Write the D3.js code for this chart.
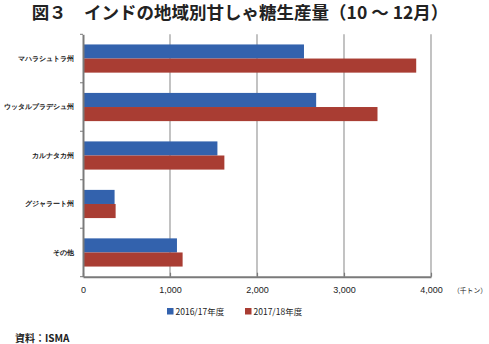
<!DOCTYPE html>
<html>
<head>
<meta charset="utf-8">
<script src="https://cdn.jsdelivr.net/npm/d3@7"></script>
<style>
  html, body { margin: 0; padding: 0; background: #fff; }
  svg { display: block; font-family: "Noto Sans CJK JP", "Noto Sans", sans-serif; }
</style>
</head>
<body>
<svg id="chart" width="489" height="344"></svg>
<script>
// Regional sugar production in India, Oct–Dec (thousand tonnes)
const categories = ["マハラシュトラ州", "ウッタルプラデシュ州", "カルナタカ州", "グジャラート州", "その他"];
const series2016 = [2540, 2680, 1545, 363, 1080];
const series2017 = [3830, 3385, 1625, 375, 1145];
const seriesNames = ["2016/17年度", "2017/18年度"];
const xTicks = [0, 1000, 2000, 3000, 4000];

const colors = ["#3362ad", "#a93d33"];
const svg = d3.select("#chart");
const margin = { left: 83, right: 58, top: 34.3, bottom: 67.3 };
const W = 489, H = 344;

const x = d3.scaleLinear().domain([0, 4000]).range([margin.left, W - margin.right]);
const y = d3.scaleBand().domain(categories).range([margin.top, H - margin.bottom]);
const yInner = d3.scaleBand().domain([0, 1]).range([0, y.bandwidth()]).paddingInner(0).paddingOuter(0.72);

// Title
svg.append("text")
  .attr("x", 240).attr("y", 19)
  .attr("text-anchor", "middle")
  .attr("font-size", 17.5).attr("font-weight", "bold")
  .attr("fill", "#222")
  .text("図３　インドの地域別甘しゃ糖生産量（10 ～ 12月）");

// Vertical gridlines
svg.append("g").selectAll("line")
  .data(xTicks.slice(1))
  .join("line")
  .attr("x1", d => x(d)).attr("x2", d => x(d))
  .attr("y1", margin.top).attr("y2", H - margin.bottom)
  .attr("stroke", "#9a9a9a").attr("stroke-width", 1.2);

// Bars
const rows = categories.map((c, i) => ({ c, v: [series2016[i], series2017[i]] }));
const grp = svg.append("g").selectAll("g")
  .data(rows).join("g")
  .attr("transform", d => `translate(0,${y(d.c)})`);
grp.selectAll("rect")
  .data(d => d.v.map((v, k) => ({ v, k })))
  .join("rect")
  .attr("x", x(0))
  .attr("y", d => yInner(d.k))
  .attr("width", d => x(d.v) - x(0))
  .attr("height", yInner.bandwidth())
  .attr("fill", d => colors[d.k]);

// X axis
const xAxis = svg.append("g")
  .attr("transform", `translate(0,${H - margin.bottom})`)
  .call(d3.axisBottom(x).tickValues(xTicks).tickFormat(d3.format(",")).tickSize(0).tickPadding(10));
xAxis.select(".domain").attr("stroke", "#7a7a7a").attr("stroke-width", 2);
xAxis.selectAll("text").attr("font-size", 9).attr("fill", "#222").attr("font-family", "Liberation Sans, Arial, sans-serif");
xAxis.selectAll(".tick").append("line")
  .attr("y1", 0).attr("y2", -4).attr("stroke", "#7a7a7a").attr("stroke-width", 1.2);

// Unit label
svg.append("text")
  .attr("x", 453).attr("y", 293)
  .attr("font-size", 6.8).attr("fill", "#222")
  .text("（千トン）");

// Y axis
const yAxis = svg.append("g")
  .attr("transform", `translate(${x(0)},0)`)
  .call(d3.axisLeft(y).tickSize(0).tickPadding(9));
yAxis.select(".domain").attr("stroke", "#7a7a7a").attr("stroke-width", 2);
yAxis.selectAll("text").attr("font-size", 7.2).attr("font-weight", "bold").attr("fill", "#222");
// category separators on the left axis
svg.append("g").selectAll("line")
  .data(categories.concat(["end"]))
  .join("line")
  .attr("x1", x(0) - 3).attr("x2", x(0))
  .attr("y1", (d, i) => margin.top + i * y.step())
  .attr("y2", (d, i) => margin.top + i * y.step())
  .attr("stroke", "#7a7a7a").attr("stroke-width", 1);

// Legend
const legendX = [167, 245];
const lg = svg.append("g").selectAll("g")
  .data(seriesNames).join("g")
  .attr("transform", (d, i) => `translate(${legendX[i]},308)`);
lg.append("rect").attr("width", 6.5).attr("height", 6.5).attr("fill", (d, i) => colors[i]);
lg.append("text").attr("x", 8.5).attr("y", 7).attr("font-size", 8.5).attr("fill", "#222").text(d => d);

// Source note
svg.append("text")
  .attr("x", 15).attr("y", 342)
  .attr("font-size", 10).attr("font-weight", "bold").attr("fill", "#222")
  .text("資料：ISMA");
</script>
</body>
</html>
